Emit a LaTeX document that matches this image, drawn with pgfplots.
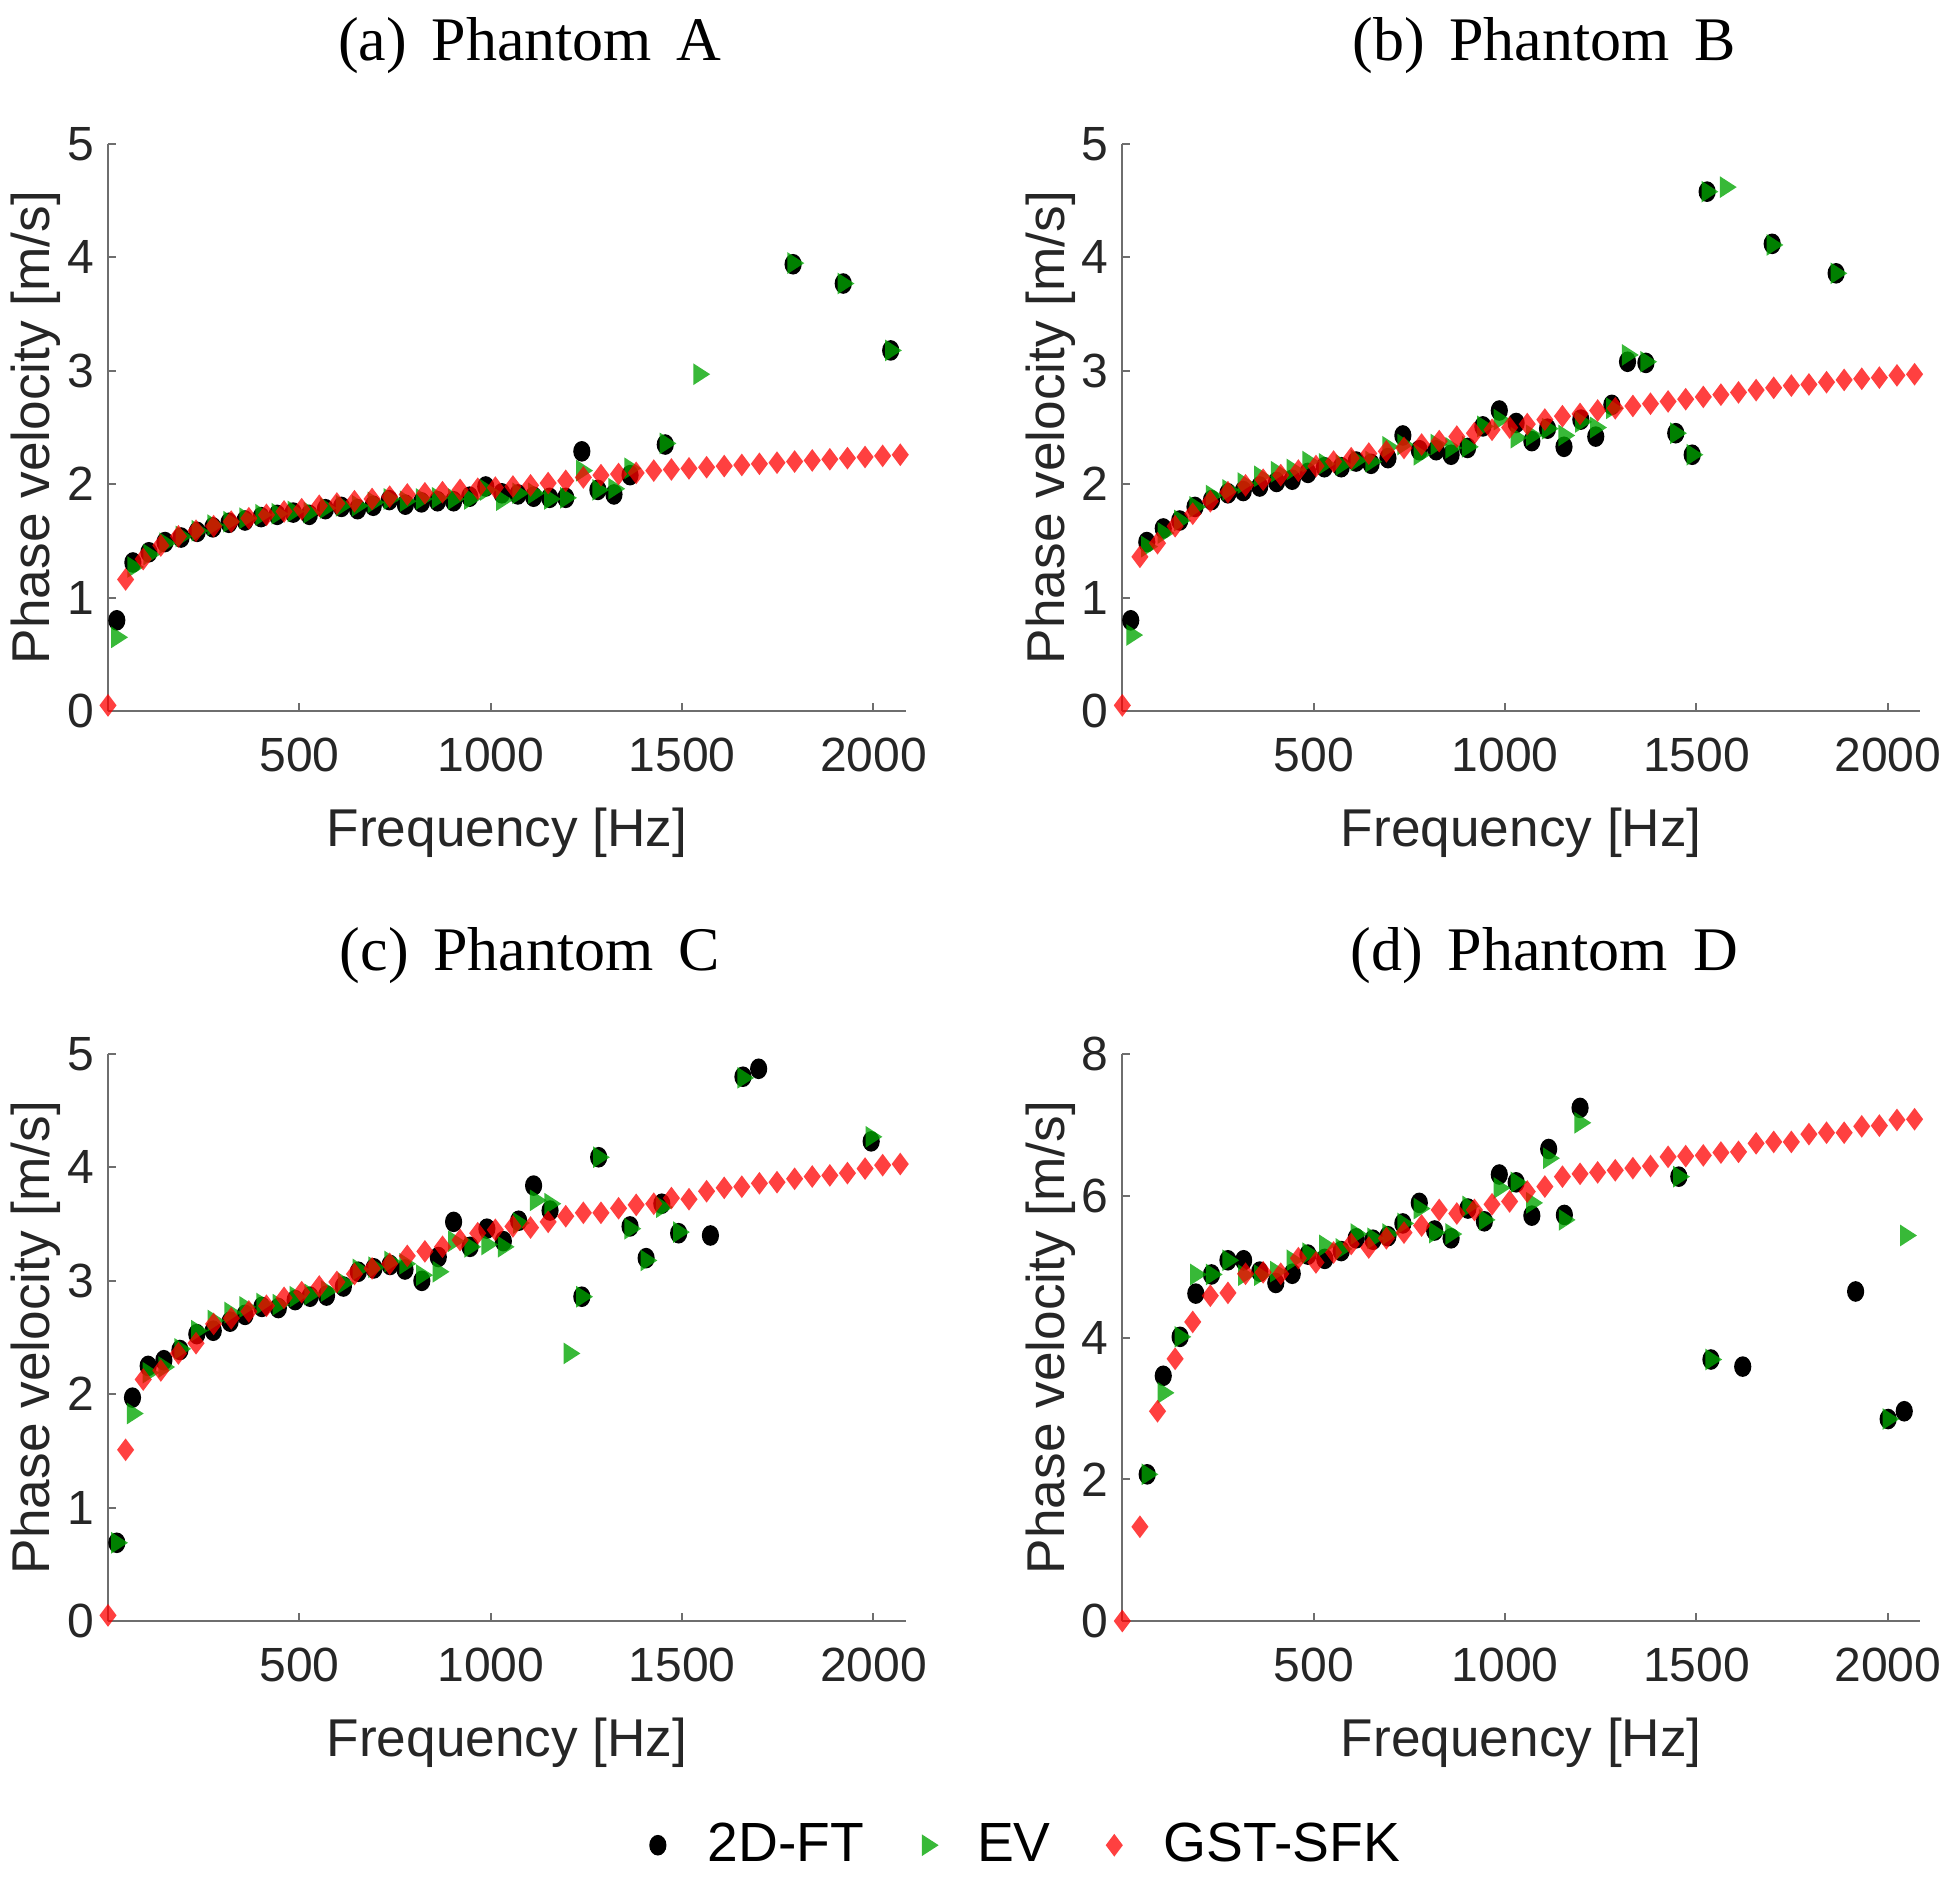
\documentclass[border=0pt]{standalone}
\usepackage{pgfplots}
\pgfplotsset{compat=1.18}
\usepackage{fontspec}
\setmainfont{Liberation Sans}
\newfontfamily\titlefont{Liberation Serif}
\definecolor{evgreen}{RGB}{0,165,0}
\definecolor{axgray}{RGB}{110,110,110}
\definecolor{txt}{RGB}{38,38,38}
\pgfplotsset{
  every axis title shift=0pt,
  panel/.style={
    scale only axis, width=199.5pt, height=141.75pt,
    anchor=south west, clip=false,
    axis lines=left, axis line style={-, axgray, line width=0.5pt},
    tick align=inside, major tick length=2pt,
    tick style={axgray, line width=0.5pt},
    xmin=0, xmax=2085, ymin=0,
    xtick={500,1000,1500,2000},
    /pgf/number format/1000 sep={},
    /pgf/number format/assume math mode=true,
    ticklabel style={font=\fontsize{12}{14}\selectfont, text=txt},
    xticklabel style={yshift=-3.2pt},
    xlabel={Frequency [Hz]}, ylabel={Phase velocity [m/s]},
    label style={font=\fontsize{13.3}{16}\selectfont, text=txt},
    xlabel style={at={(axis description cs:0.5,0)}, anchor=base, yshift=-33.75pt},
    ylabel style={at={(axis description cs:-0.0727,0.5)}, anchor=base},
    title style={font=\titlefont\fontsize{15.5}{18}\selectfont, text=black, at={(axis description cs:0.5288,1)}, anchor=base, yshift=21pt},
    legend image code/.code={\path[draw=none, fill=none] (0pt,-2pt) rectangle (18.9pt,2pt); \draw[##1] plot coordinates {(8.5pt,0pt)};},
  },
  ft/.style={only marks, color=black, mark=*, mark size=2.15pt, mark options={yscale=1.2, draw opacity=0, fill=black}},
  ev/.style={only marks, color=evgreen, mark=triangle*, mark size=2.8pt, mark options={yscale=1.12, rotate=-90, draw opacity=0, fill=evgreen, fill opacity=0.78}},
  gst/.style={only marks, color=red, mark=diamond*, mark size=2.85pt, mark options={draw opacity=0, fill=red, fill opacity=0.75}},
}
\begin{document}
\begin{tikzpicture}
\useasboundingbox (0,0) rectangle (487.5pt,-469.75pt);
% (a)
\begin{axis}[panel, at={(27pt,-177.75pt)}, ymax=5, ytick={0,1,2,3,4,5},
  title={(a)\hspace{0.4em}Phantom\hspace{0.4em}A}]
\addplot[ft] coordinates {(23,0.80) (65,1.31) (107,1.40) (149,1.49) (191,1.53) (233,1.58) (274,1.62) (316,1.66) (358,1.68) (400,1.71) (442,1.73) (484,1.75) (526,1.73) (568,1.78) (610,1.80) (652,1.78) (693,1.81) (735,1.86) (777,1.82) (819,1.84) (861,1.85) (903,1.85) (945,1.89) (987,1.98) (1029,1.92) (1071,1.91) (1112,1.89) (1154,1.88) (1196,1.88) (1238,2.29) (1280,1.95) (1322,1.91) (1364,2.08) (1456,2.35) (1790,3.94) (1921,3.77) (2045,3.18)};
\addplot[ev] coordinates {(23,0.65) (65,1.27) (107,1.38) (149,1.48) (191,1.54) (233,1.59) (274,1.64) (316,1.67) (358,1.70) (400,1.73) (442,1.74) (484,1.76) (526,1.75) (568,1.79) (610,1.81) (652,1.81) (693,1.84) (735,1.87) (777,1.85) (819,1.87) (861,1.88) (903,1.87) (945,1.87) (987,1.95) (1029,1.86) (1071,1.92) (1112,1.92) (1154,1.87) (1196,1.88) (1238,2.12) (1280,1.95) (1322,1.96) (1364,2.14) (1456,2.36) (1544,2.97) (1790,3.95) (1921,3.77) (2045,3.18)};
\addplot[gst] coordinates {(0,0.05) (46,1.16) (92,1.34) (138,1.46) (184,1.54) (230,1.59) (276,1.63) (322,1.67) (368,1.70) (414,1.73) (460,1.76) (506,1.78) (552,1.81) (598,1.83) (644,1.85) (690,1.87) (736,1.89) (782,1.91) (828,1.92) (874,1.93) (920,1.95) (966,1.96) (1012,1.97) (1058,1.98) (1104,1.99) (1150,2.01) (1196,2.03) (1242,2.06) (1288,2.08) (1334,2.09) (1380,2.10) (1426,2.12) (1472,2.13) (1518,2.14) (1564,2.15) (1610,2.16) (1656,2.17) (1702,2.18) (1748,2.19) (1794,2.20) (1840,2.21) (1886,2.22) (1932,2.23) (1978,2.24) (2024,2.25) (2070,2.26)};
\end{axis}
% (b)
\begin{axis}[panel, at={(280.575pt,-177.75pt)}, ymax=5, ytick={0,1,2,3,4,5},
  title={(b)\hspace{0.4em}Phantom\hspace{0.4em}B}]
\addplot[ft] coordinates {(22,0.80) (64,1.49) (107,1.61) (150,1.68) (190,1.80) (233,1.86) (276,1.92) (316,1.94) (359,1.98) (403,2.02) (444,2.04) (485,2.10) (528,2.15) (572,2.15) (611,2.20) (650,2.18) (694,2.23) (733,2.43) (776,2.30) (820,2.30) (859,2.26) (902,2.32) (942,2.51) (985,2.65) (1029,2.54) (1070,2.38) (1111,2.49) (1154,2.33) (1198,2.57) (1237,2.42) (1279,2.70) (1320,3.08) (1368,3.07) (1446,2.45) (1489,2.26) (1528,4.58) (1698,4.12) (1865,3.86)};
\addplot[ev] coordinates {(25,0.67) (64,1.45) (107,1.57) (150,1.68) (190,1.80) (233,1.90) (276,1.95) (316,2.01) (359,2.07) (403,2.11) (444,2.13) (485,2.20) (528,2.18) (572,2.17) (611,2.21) (650,2.20) (694,2.33) (733,2.35) (776,2.26) (820,2.35) (859,2.32) (902,2.33) (942,2.51) (985,2.57) (1029,2.41) (1070,2.43) (1111,2.49) (1154,2.43) (1198,2.55) (1237,2.50) (1279,2.67) (1320,3.14) (1368,3.08) (1446,2.45) (1489,2.26) (1528,4.58) (1576,4.62) (1698,4.11) (1865,3.86)};
\addplot[gst] coordinates {(0,0.05) (46,1.36) (92,1.48) (138,1.63) (184,1.74) (230,1.85) (276,1.93) (322,1.99) (368,2.04) (414,2.08) (460,2.12) (506,2.16) (552,2.20) (598,2.23) (644,2.27) (690,2.29) (736,2.32) (782,2.35) (828,2.38) (874,2.42) (920,2.45) (966,2.48) (1012,2.50) (1058,2.53) (1104,2.57) (1150,2.60) (1196,2.62) (1242,2.65) (1288,2.67) (1334,2.69) (1380,2.71) (1426,2.73) (1472,2.75) (1518,2.77) (1564,2.79) (1610,2.81) (1656,2.83) (1702,2.85) (1748,2.87) (1794,2.88) (1840,2.90) (1886,2.92) (1932,2.93) (1978,2.94) (2024,2.96) (2070,2.97)};
\end{axis}
% (c)
\begin{axis}[panel, at={(27pt,-405.25pt)}, ymax=5, ytick={0,1,2,3,4,5},
  title={(c)\hspace{0.4em}Phantom\hspace{0.4em}C},
  legend columns=3,
  legend style={draw=none, fill=none, at={(axis description cs:1.1378,-0.3954)}, anchor=center,
    font=\fontsize{13.8}{16.5}\selectfont, text=black,
    /tikz/every even column/.append style={column sep=5.4pt}}]
\addplot[ft] coordinates {(23,0.69) (64,1.97) (105,2.25) (146,2.30) (188,2.39) (232,2.53) (275,2.56) (319,2.64) (358,2.70) (402,2.77) (445,2.76) (489,2.83) (528,2.86) (571,2.87) (615,2.95) (654,3.08) (695,3.11) (737,3.14) (776,3.10) (820,3.00) (863,3.21) (903,3.52) (946,3.30) (990,3.46) (1033,3.35) (1073,3.53) (1112,3.84) (1155,3.62) (1238,2.86) (1282,4.09) (1364,3.48) (1406,3.20) (1447,3.68) (1491,3.42) (1574,3.40) (1659,4.80) (1700,4.87) (1994,4.23)};
\addlegendentry{2D-FT}
\addplot[ev] coordinates {(23,0.69) (64,1.83) (105,2.19) (146,2.24) (188,2.40) (232,2.56) (275,2.65) (319,2.72) (358,2.77) (402,2.80) (445,2.79) (489,2.86) (528,2.88) (571,2.91) (615,2.98) (654,3.10) (695,3.12) (737,3.17) (776,3.15) (820,3.05) (863,3.08) (903,3.35) (946,3.30) (990,3.32) (1033,3.30) (1073,3.51) (1117,3.71) (1155,3.68) (1205,2.36) (1238,2.86) (1282,4.09) (1364,3.46) (1406,3.18) (1447,3.65) (1491,3.43) (1659,4.79) (1994,4.27)};
\addlegendentry{EV}
\addplot[gst] coordinates {(0,0.05) (46,1.51) (92,2.13) (138,2.21) (184,2.36) (230,2.45) (276,2.62) (322,2.67) (368,2.73) (414,2.78) (460,2.85) (506,2.90) (552,2.95) (598,2.99) (644,3.06) (690,3.11) (736,3.15) (782,3.22) (828,3.26) (874,3.30) (920,3.36) (966,3.42) (1012,3.45) (1058,3.48) (1104,3.47) (1150,3.52) (1196,3.57) (1242,3.60) (1288,3.60) (1334,3.64) (1380,3.67) (1426,3.68) (1472,3.73) (1518,3.72) (1564,3.79) (1610,3.82) (1656,3.83) (1702,3.86) (1748,3.87) (1794,3.90) (1840,3.92) (1886,3.93) (1932,3.95) (1978,3.99) (2024,4.02) (2070,4.03)};
\addlegendentry{GST-SFK}
\end{axis}
% (d)
\begin{axis}[panel, at={(280.575pt,-405.25pt)}, ymax=8, ytick={0,2,4,6,8},
  title={(d)\hspace{0.4em}Phantom\hspace{0.4em}D}]
\addplot[ft] coordinates {(65,2.07) (107,3.46) (151,4.01) (192,4.62) (233,4.89) (276,5.09) (317,5.09) (359,4.93) (401,4.77) (444,4.90) (485,5.17) (529,5.11) (572,5.22) (611,5.40) (655,5.38) (694,5.43) (733,5.61) (776,5.90) (816,5.51) (859,5.40) (903,5.82) (946,5.64) (985,6.30) (1029,6.19) (1070,5.72) (1114,6.66) (1155,5.73) (1196,7.24) (1454,6.27) (1538,3.69) (1621,3.59) (1916,4.65) (2001,2.85) (2043,2.96)};
\addplot[ev] coordinates {(65,2.07) (107,3.22) (151,4.01) (192,4.89) (233,4.89) (276,5.09) (317,4.88) (359,4.88) (401,4.93) (444,5.09) (485,5.19) (529,5.30) (572,5.25) (611,5.46) (655,5.40) (694,5.46) (733,5.61) (776,5.82) (816,5.48) (859,5.46) (903,5.85) (946,5.66) (985,6.11) (1029,6.19) (1070,5.90) (1114,6.53) (1155,5.66) (1196,7.03) (1454,6.27) (1538,3.69) (2001,2.85) (2047,5.44)};
\addplot[gst] coordinates {(0,0) (46,1.33) (92,2.96) (138,3.70) (184,4.22) (230,4.59) (276,4.63) (322,4.90) (368,4.92) (414,4.90) (460,5.12) (506,5.06) (552,5.20) (598,5.32) (644,5.27) (690,5.40) (736,5.48) (782,5.58) (828,5.80) (874,5.75) (920,5.80) (966,5.88) (1012,5.92) (1058,6.06) (1104,6.13) (1150,6.27) (1196,6.31) (1242,6.33) (1288,6.36) (1334,6.39) (1380,6.42) (1426,6.55) (1472,6.56) (1518,6.57) (1564,6.61) (1610,6.62) (1656,6.74) (1702,6.76) (1748,6.76) (1794,6.87) (1840,6.89) (1886,6.89) (1932,6.98) (1978,6.99) (2024,7.07) (2070,7.08)};
\end{axis}
\end{tikzpicture}
\end{document}
